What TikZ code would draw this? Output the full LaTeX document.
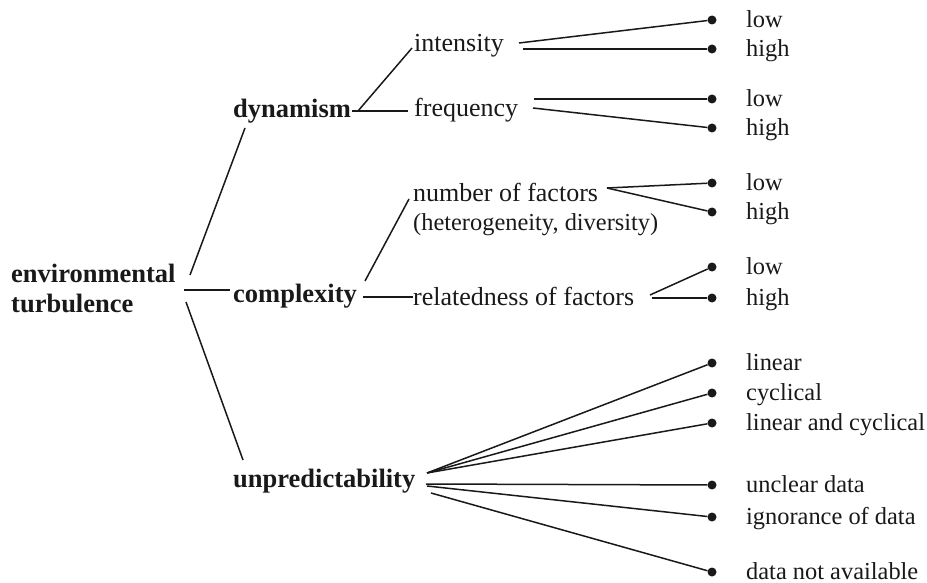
\documentclass[tikz,border=0pt]{standalone}
\usepackage{fontspec}
\setmainfont{Liberation Serif}
\begin{document}
\begin{tikzpicture}[x=1pt,y=-1pt,
  lbl/.style={inner sep=0pt, anchor=base west, text=black!90},
  head/.style={lbl, font=\fontsize{26.5}{30}\selectfont\bfseries},
  mid/.style={lbl, font=\fontsize{26}{30}\selectfont},
  leaf/.style={lbl, font=\fontsize{24.4}{28}\selectfont},
  dot/.style={circle, fill=black!90, inner sep=0pt, minimum size=9pt},
  link/.style={draw=black!90, line width=1.5pt}]
\useasboundingbox (0,0) rectangle (927,583);

% root and first level
\node[head] (env1) at (11,282) {environmental};
\node[head] (env2) at (11,312) {turbulence};
\node[head] (dyn) at (233,118) {dynamism};
\node[head] (cpx) at (233,302) {complexity};
\node[head] (unp) at (233,487) {unpredictability};

% second level
\node[mid] (int) at (414,52) {intensity};
\node[mid] (frq) at (414,117) {frequency};
\node[mid] (nof) at (413,202) {number of factors};
\node[leaf] (het) at (413,230) {(heterogeneity, diversity)};
\node[mid] (rel) at (413,305) {relatedness of factors};

% leaves: dot and label
\foreach \n/\y/\t in {l1/20/low, h1/49/high, l2/99/low, h2/128/high,
  l3/183/low, h3/212/high, l4/267/low, h4/298/high,
  lin/363/linear, cyc/393/cyclical, lc/423/linear and cyclical,
  unc/485/unclear data, ign/517/ignorance of data, dna/572/data not available}{
  \node[dot] (d-\n) at (712,\y) {};
  \node[leaf] (t-\n) at (746,\y+7.5) {\t};
}

% connection points
\coordinate (env-a) at (190,275);
\coordinate (env-b) at (184,290);
\coordinate (env-c) at (186,302);
\coordinate (dyn-in) at (245,128);
\coordinate (cpx-in) at (230,290);
\coordinate (unp-in) at (243,460);
\coordinate (dyn-a) at (358,111);
\coordinate (dyn-b) at (352,111);
\coordinate (int-in) at (412,48);
\coordinate (frq-in) at (408,111);
\coordinate (cpx-a) at (365,281);
\coordinate (cpx-b) at (363,297);
\coordinate (nof-in) at (409,199);
\coordinate (rel-in) at (413,297);
\coordinate (int-a) at (519,43);
\coordinate (int-b) at (523,49);
\coordinate (frq-a) at (534,99);
\coordinate (frq-b) at (533,108);
\coordinate (nof-o) at (607,188);
\coordinate (rel-a) at (650,295);
\coordinate (rel-b) at (652,298);
\coordinate (unp-a) at (427,473);
\coordinate (unp-b) at (426,484);
\coordinate (unp-c) at (427,486);
\coordinate (unp-d) at (431,493);

% connectors
\draw[link] (env-a) -- (dyn-in);
\draw[link] (env-b) -- (cpx-in);
\draw[link] (env-c) -- (unp-in);
\draw[link] (dyn-a) -- (int-in);
\draw[link] (dyn-b) -- (frq-in);
\draw[link] (cpx-a) -- (nof-in);
\draw[link] (cpx-b) -- (rel-in);
\draw[link] (int-a) -- (d-l1);
\draw[link] (int-b) -- (d-h1);
\draw[link] (frq-a) -- (d-l2);
\draw[link] (frq-b) -- (d-h2);
\draw[link] (nof-o) -- (d-l3);
\draw[link] (nof-o) -- (d-h3);
\draw[link] (rel-a) -- (d-l4);
\draw[link] (rel-b) -- (d-h4);
\draw[link] (unp-a) -- (d-lin);
\draw[link] (unp-a) -- (d-cyc);
\draw[link] (unp-a) -- (d-lc);
\draw[link] (unp-b) -- (d-unc);
\draw[link] (unp-c) -- (d-ign);
\draw[link] (unp-d) -- (d-dna);
\end{tikzpicture}
\end{document}
